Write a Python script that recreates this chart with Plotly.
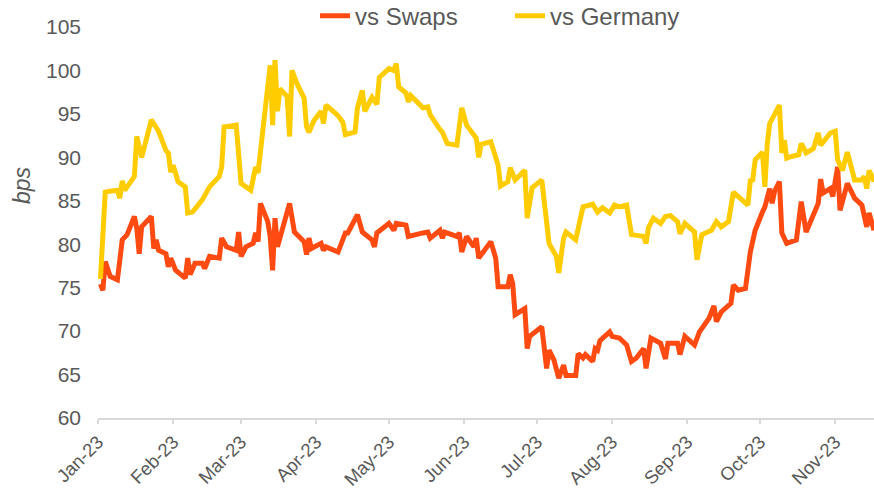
import plotly.graph_objects as go

ger_dates = ["2023-01-02","2023-01-04","2023-01-06","2023-01-09","2023-01-10","2023-01-11","2023-01-12","2023-01-16","2023-01-17","2023-01-19","2023-01-23","2023-01-26","2023-01-29","2023-01-30","2023-01-31","2023-02-01","2023-02-03","2023-02-06","2023-02-07","2023-02-09","2023-02-13","2023-02-16","2023-02-20","2023-02-21","2023-02-22","2023-02-27","2023-03-01","2023-03-05","2023-03-07","2023-03-08","2023-03-13","2023-03-14","2023-03-15","2023-03-16","2023-03-17","2023-03-20","2023-03-21","2023-03-22","2023-03-24","2023-03-27","2023-03-28","2023-03-29","2023-03-31","2023-04-03","2023-04-04","2023-04-05","2023-04-10","2023-04-12","2023-04-13","2023-04-17","2023-04-18","2023-04-20","2023-04-21","2023-04-24","2023-04-26","2023-04-27","2023-05-01","2023-05-03","2023-05-04","2023-05-05","2023-05-08","2023-05-09","2023-05-10","2023-05-15","2023-05-17","2023-05-18","2023-05-22","2023-05-23","2023-05-25","2023-05-29","2023-05-31","2023-06-02","2023-06-06","2023-06-07","2023-06-08","2023-06-12","2023-06-15","2023-06-16","2023-06-19","2023-06-20","2023-06-22","2023-06-26","2023-06-27","2023-06-28","2023-06-29","2023-07-03","2023-07-05","2023-07-06","2023-07-09","2023-07-10","2023-07-12","2023-07-13","2023-07-17","2023-07-19","2023-07-20","2023-07-24","2023-07-26","2023-07-28","2023-07-31","2023-08-02","2023-08-04","2023-08-07","2023-08-09","2023-08-14","2023-08-15","2023-08-16","2023-08-18","2023-08-21","2023-08-23","2023-08-25","2023-08-28","2023-08-29","2023-08-31","2023-09-04","2023-09-05","2023-09-07","2023-09-11","2023-09-13","2023-09-15","2023-09-18","2023-09-20","2023-09-26","2023-09-27","2023-09-28","2023-09-29","2023-10-02","2023-10-03","2023-10-04","2023-10-05","2023-10-09","2023-10-10","2023-10-11","2023-10-12","2023-10-14","2023-10-17","2023-10-18","2023-10-20","2023-10-23","2023-10-25","2023-10-26","2023-10-30","2023-11-01","2023-11-02","2023-11-04","2023-11-06","2023-11-09","2023-11-12","2023-11-13","2023-11-14","2023-11-15","2023-11-17"]
ger_values = [76.0,86.0,86.1,86.2,85.3,87.3,86.2,87.8,92.4,90.0,94.3,93.0,90.8,90.5,88.3,89.1,87.2,86.6,83.6,83.7,85.1,86.6,87.8,88.9,93.5,93.7,87.0,86.2,88.9,88.2,100.6,93.7,101.2,95.3,97.9,97.0,92.4,100.0,98.5,96.8,93.5,92.9,94.2,95.3,93.9,96.0,94.8,94.0,92.6,92.9,95.7,97.7,95.3,96.9,96.1,99.2,100.2,100.0,100.8,98.1,97.4,96.4,97.1,95.7,95.8,94.9,93.2,92.9,91.6,91.4,95.7,93.7,92.2,90.0,91.5,91.8,89.1,86.7,87.2,88.8,87.4,88.5,83.0,85.2,86.5,87.4,83.2,80.1,78.6,76.7,80.7,81.4,80.5,82.8,84.3,84.6,83.7,84.2,83.6,84.5,84.3,84.5,81.1,80.9,80.1,81.9,83.0,82.4,83.2,83.3,82.6,81.2,82.4,81.4,78.2,81.1,81.6,82.6,82.0,82.6,86.0,84.5,87.3,87.4,89.7,90.6,86.6,91.6,93.9,96.0,90.5,92.0,89.9,90.1,90.3,91.6,90.5,91.0,92.8,91.4,92.8,93.0,89.7,88.5,90.6,87.4,87.4,87.8,86.4,88.5,87.2]

swp_dates = ["2023-01-02","2023-01-03","2023-01-04","2023-01-06","2023-01-09","2023-01-10","2023-01-11","2023-01-13","2023-01-16","2023-01-17","2023-01-18","2023-01-19","2023-01-23","2023-01-24","2023-01-25","2023-01-26","2023-01-29","2023-01-30","2023-01-31","2023-02-02","2023-02-06","2023-02-07","2023-02-08","2023-02-10","2023-02-13","2023-02-14","2023-02-16","2023-02-20","2023-02-21","2023-02-23","2023-02-27","2023-02-28","2023-03-01","2023-03-03","2023-03-06","2023-03-07","2023-03-08","2023-03-09","2023-03-12","2023-03-13","2023-03-14","2023-03-15","2023-03-16","2023-03-21","2023-03-23","2023-03-27","2023-03-28","2023-03-29","2023-03-30","2023-04-03","2023-04-04","2023-04-05","2023-04-10","2023-04-13","2023-04-14","2023-04-18","2023-04-20","2023-04-24","2023-04-25","2023-04-26","2023-05-01","2023-05-03","2023-05-04","2023-05-08","2023-05-09","2023-05-15","2023-05-17","2023-05-18","2023-05-22","2023-05-23","2023-05-24","2023-05-29","2023-05-30","2023-05-31","2023-06-02","2023-06-05","2023-06-06","2023-06-07","2023-06-12","2023-06-14","2023-06-15","2023-06-19","2023-06-20","2023-06-21","2023-06-22","2023-06-26","2023-06-27","2023-06-28","2023-07-03","2023-07-05","2023-07-06","2023-07-08","2023-07-10","2023-07-12","2023-07-13","2023-07-17","2023-07-18","2023-07-20","2023-07-21","2023-07-24","2023-07-25","2023-07-26","2023-07-27","2023-07-31","2023-08-01","2023-08-04","2023-08-07","2023-08-09","2023-08-11","2023-08-14","2023-08-15","2023-08-17","2023-08-21","2023-08-23","2023-08-24","2023-08-25","2023-08-28","2023-08-29","2023-08-31","2023-09-04","2023-09-06","2023-09-10","2023-09-12","2023-09-13","2023-09-15","2023-09-19","2023-09-20","2023-09-22","2023-09-25","2023-09-27","2023-09-29","2023-10-02","2023-10-03","2023-10-05","2023-10-06","2023-10-07","2023-10-09","2023-10-10","2023-10-12","2023-10-16","2023-10-18","2023-10-20","2023-10-25","2023-10-26","2023-10-27","2023-10-30","2023-10-31","2023-11-02","2023-11-03","2023-11-06","2023-11-09","2023-11-12","2023-11-14","2023-11-15","2023-11-17"]
swp_values = [75.4,74.7,78.0,76.3,75.9,77.8,80.5,81.1,83.2,81.8,78.9,82.0,83.2,79.5,80.5,79.3,78.9,77.4,78.4,77.0,76.1,78.4,76.5,77.8,77.8,77.2,78.6,78.4,80.7,79.7,79.3,81.4,78.6,79.7,80.1,81.3,80.3,84.7,82.6,80.9,77.0,83.0,79.7,84.7,81.4,80.3,78.8,80.7,79.5,80.1,79.3,79.7,79.1,81.3,81.3,83.4,81.4,80.5,79.7,81.3,82.4,81.6,82.4,82.2,80.9,81.3,81.4,80.7,81.6,80.7,81.4,80.9,81.3,79.1,80.9,79.7,80.7,78.4,80.3,78.4,75.1,75.1,76.5,75.5,71.9,72.6,68.0,69.4,70.5,65.7,67.8,66.7,64.6,66.1,64.9,64.9,67.4,66.9,67.3,66.5,68.0,67.8,68.9,69.9,69.4,69.2,68.4,66.5,66.9,68.0,65.7,69.2,68.6,66.8,68.6,68.6,68.6,67.3,69.4,68.4,69.9,71.5,72.9,71.1,72.2,73.2,75.3,74.7,74.9,79.1,81.6,83.7,84.3,86.4,84.7,86.1,87.2,81.3,80.1,80.5,84.9,81.4,84.7,87.5,85.9,86.4,85.5,88.9,83.9,87.0,85.3,84.5,82.0,83.6,81.6]

series_names = ["vs Swaps", "vs Germany"]
y_ticks = [60, 65, 70, 75, 80, 85, 90, 95, 100, 105]
x_tick_dates = ["2023-01-01","2023-02-01","2023-03-01","2023-04-01","2023-05-01","2023-06-01","2023-07-01","2023-08-01","2023-09-01","2023-10-01","2023-11-01"]
x_tick_labels = ["Jan-23","Feb-23","Mar-23","Apr-23","May-23","Jun-23","Jul-23","Aug-23","Sep-23","Oct-23","Nov-23"]

RED = "#FF4A12"
YEL = "#FFCC00"
GREY = "#595959"
FONT = "Liberation Sans, Arial, sans-serif"

fig = go.Figure()
fig.add_trace(go.Scatter(x=swp_dates, y=swp_values, mode="lines", name=series_names[0],
                         line=dict(color=RED, width=5)))
fig.add_trace(go.Scatter(x=ger_dates, y=ger_values, mode="lines", name=series_names[1],
                         line=dict(color=YEL, width=5)))

fig.update_layout(
    width=874, height=490,
    margin=dict(l=98, r=0, t=27, b=72, autoexpand=False),
    paper_bgcolor="white", plot_bgcolor="white",
    font=dict(family=FONT, color=GREY, size=20),
    showlegend=True,
    legend=dict(orientation="h", x=(315 - 98) / 776, xanchor="left", y=1.085, yanchor="top",
                font=dict(size=24, color=GREY), bgcolor="rgba(0,0,0,0)",
                entrywidth=150, entrywidthmode="pixels", tracegroupgap=0),
    xaxis=dict(type="date", range=["2023-01-01", "2023-11-17"], automargin=False,
               tickvals=x_tick_dates, ticktext=x_tick_labels, tickangle=-45,
               showgrid=False, zeroline=False, showline=True, linecolor="#D9D9D9", linewidth=2,
               ticks="outside", ticklen=4, tickcolor="#D9D9D9", tickwidth=2,
               tickfont=dict(size=18.5, color=GREY)),
    yaxis=dict(range=[60, 105], tickvals=y_ticks, showgrid=False, zeroline=False, automargin=False,
               showline=False, ticks="", ticklabelstandoff=16, tickfont=dict(size=21, color=GREY)),
    annotations=[dict(text="<i>bps</i>", textangle=-90, xref="paper", yref="paper",
                      x=-76/776, y=(418-185)/391, xanchor="center", yanchor="middle",
                      showarrow=False, font=dict(size=23, color=GREY, family=FONT))],
)

fig.write_html("out.html", config={"displayModeBar": False},
               post_script="document.body.style.margin='0';")
